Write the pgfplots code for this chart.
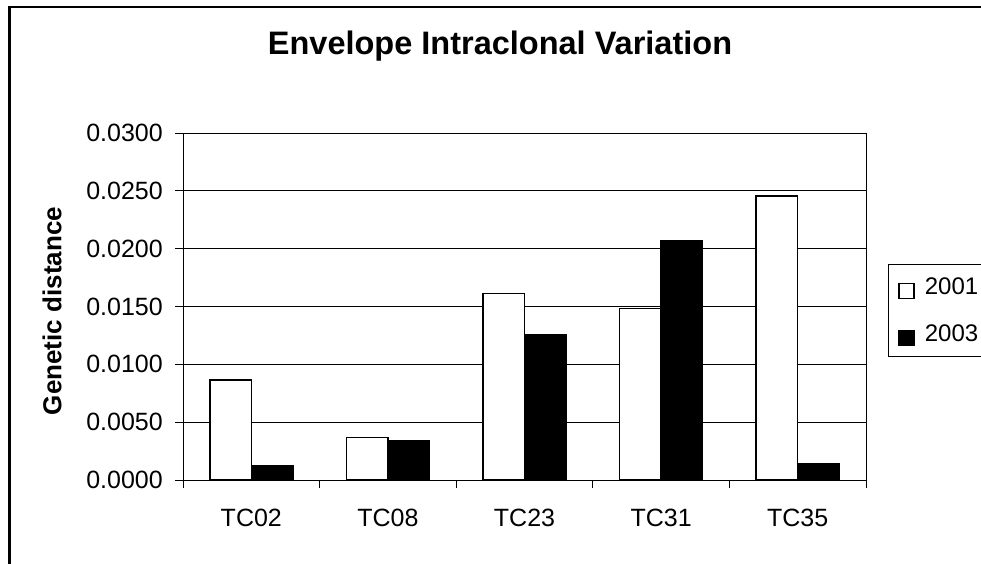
\documentclass[border=0pt]{standalone}
\usepackage{pgfplots}
\pgfplotsset{compat=1.18}
\usepackage{fontspec}
\setmainfont{Liberation Sans}
\begin{document}
\begin{tikzpicture}
\path[use as bounding box] (0,0) rectangle (981pt,563pt);
\draw[line width=2.5pt] (9.5pt,-20pt) rectangle (1000pt,556pt);
\begin{axis}[
  at={(183pt,83pt)}, anchor=south west,
  width=683pt, height=347pt, scale only axis,
  ybar=0pt, bar width=41.5pt,
  xmin=-0.5, xmax=4.5, ymin=0, ymax=0.03,
  xtick={0,1,2,3,4},
  xticklabels={TC02,TC08,TC23,TC31,TC35},
  minor xtick={-0.5,0.5,1.5,2.5,3.5,4.5},
  ytick={0,0.005,0.01,0.015,0.02,0.025,0.03},
  scaled y ticks=false,
  /pgf/number format/assume math mode=true,
  yticklabel style={/pgf/number format/.cd, fixed, fixed zerofill, precision=4, /tikz/.cd,
     font=\fontsize{25}{25}\selectfont, inner sep=0pt, anchor=east, xshift=-12pt},
  xticklabel style={font=\fontsize{25}{25}\selectfont, inner sep=0pt, anchor=north, yshift=-21pt},
  tick align=outside, tick pos=left,
  major tick length=8pt, minor tick length=8pt,
  xtick style={draw=none},
  minor x tick style={draw=black, line width=0.8pt},
  ytick style={black, line width=0.8pt},
  ymajorgrids, major grid style={black, line width=0.8pt},
  axis line style={black, line width=0.8pt},
  ylabel={\bfseries Genetic distance},
  ylabel style={font=\fontsize{26}{26}\selectfont, at={(axis description cs:-0.1918,0.487)}, anchor=center, rotate=0},
  legend style={at={(axis description cs:1.0322,0.6225)}, anchor=north west,
     draw=black, line width=0.8pt, font=\fontsize{24}{24}\selectfont,
     inner xsep=10pt, inner ysep=10pt, row sep=22pt,
     nodes={inner sep=0pt, text height=20.5pt, text depth=0pt},
     /tikz/every odd column/.append style={column sep=10pt}},
  legend cell align=left,
  legend image code/.code={\draw[#1, line width=1.5pt] (0pt,-14pt) rectangle (15pt,1pt);},
]
\addplot[draw=black, fill=white, line width=1.5pt] coordinates {(0,0.00863) (1,0.00368) (2,0.01611) (3,0.01481) (4,0.02456)};
\addplot[draw=black, fill=black, line width=1.5pt] coordinates {(0,0.00124) (1,0.00337) (2,0.01260) (3,0.02071) (4,0.00144)};
\legend{2001,2003}
\end{axis}
\node[font=\fontsize{32.5}{32.5}\selectfont\bfseries] at (500pt,517pt) {Envelope Intraclonal Variation};
\end{tikzpicture}
\end{document}
